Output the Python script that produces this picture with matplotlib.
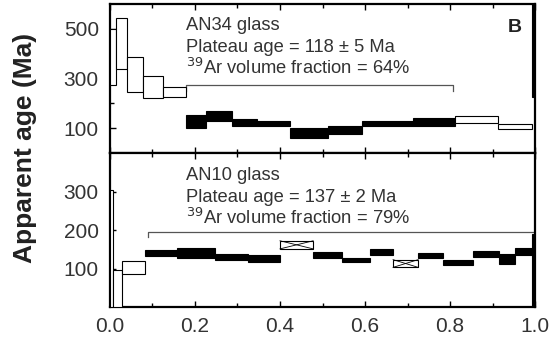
import matplotlib
matplotlib.use("Agg")
import matplotlib.pyplot as plt
from matplotlib.patches import Rectangle
from matplotlib.ticker import MultipleLocator, FixedLocator, FormatStrFormatter

plt.rcParams["font.family"] = ["Liberation Sans", "DejaVu Sans"]

# ─── Data ──────────────────────────────────────────────────────────────────────
# AN34 glass: step edges (cumulative 39Ar fraction), age low/high bounds (Ma)
an34_edges = [0.0, 0.013, 0.040, 0.078, 0.125, 0.179, 0.226, 0.287, 0.346,
              0.424, 0.513, 0.593, 0.713, 0.812, 0.913, 0.994, 1.0]
an34_lo = [275, 337, 247, 222, 226, 99, 128, 107, 107, 62, 78, 107, 107, 119, 95, 226]
an34_hi = [500, 545, 387, 309, 267, 152, 169, 136, 128, 100, 107, 128, 140, 148, 115, 650]
an34_plateau = [0, 0, 0, 0, 0, 1, 1, 1, 1, 1, 1, 1, 1, 0, 0, 1]
an34_bracket = (0.179, 0.807, 272)

# AN10 glass
an10_edges = [0.0, 0.008, 0.028, 0.082, 0.158, 0.247, 0.325, 0.400, 0.478, 0.546,
              0.612, 0.666, 0.725, 0.784, 0.854, 0.915, 0.953, 0.993, 1.0]
an10_lo = [0, 0, 87, 133, 128, 123, 118, 151, 128, 118, 136, 103, 128, 110, 131, 113, 136, 0]
an10_hi = [305, 95, 120, 149, 154, 138, 136, 172, 144, 128, 151, 123, 141, 123, 146, 138, 154, 190]
an10_plateau = [0, 0, 0, 1, 1, 1, 1, 0, 1, 1, 1, 0, 1, 1, 1, 1, 1, 1]
an10_crossed = [7, 11]
an10_bracket = (0.089, 1.0, 195)

labels_an34 = ["AN34 glass", "Plateau age = 118 ± 5 Ma", "$^{39}$Ar volume fraction = 64%"]
labels_an10 = ["AN10 glass", "Plateau age = 137 ± 2 Ma", "$^{39}$Ar volume fraction = 79%"]

TXT = "#333333"


def draw_spectrum(ax, edges, lo, hi, filled, crossed=()):
    for i in range(len(lo)):
        x0, x1 = edges[i], edges[i + 1]
        ax.add_patch(Rectangle((x0, lo[i]), x1 - x0, hi[i] - lo[i],
                               facecolor="black" if filled[i] else "white",
                               edgecolor="black", linewidth=0.8, zorder=3))
        if i in crossed:
            xm = (x0 + x1) / 2
            ym = (lo[i] + hi[i]) / 2
            for ya, yb in [(lo[i], hi[i]), (hi[i], lo[i])]:
                ax.plot([x0, xm, x1], [ya, ym, yb], color="black", lw=0.6, zorder=4)


def draw_bracket(ax, bracket, drop):
    x0, x1, y = bracket
    ax.plot([x0, x0, x1, x1], [y - drop, y, y, y - drop], color="#555555",
            lw=0.9, zorder=2)


fig = plt.figure(figsize=(5.51, 3.40), dpi=100)
ax1 = fig.add_axes([0.1996, 0.55, 0.7714, 0.438])
ax2 = fig.add_axes([0.1996, 0.097, 0.7714, 0.453])

draw_spectrum(ax1, an34_edges, an34_lo, an34_hi, an34_plateau)
draw_bracket(ax1, an34_bracket, 22)
draw_spectrum(ax2, an10_edges, an10_lo, an10_hi, an10_plateau, an10_crossed)
draw_bracket(ax2, an10_bracket, 13)

ax1.set_ylim(0, 600)
ax2.set_ylim(0, 400)
ax1.yaxis.set_major_locator(FixedLocator([100, 300, 500]))
ax1.yaxis.set_minor_locator(FixedLocator([200, 400]))
ax2.yaxis.set_major_locator(FixedLocator([100, 200, 300]))

for ax in (ax1, ax2):
    ax.set_xlim(0, 1)
    ax.xaxis.set_major_locator(MultipleLocator(0.2))
    ax.xaxis.set_minor_locator(MultipleLocator(0.1))
    ax.xaxis.set_major_formatter(FormatStrFormatter("%.1f"))
    ax.tick_params(which="both", direction="in", top=True, length=4,
                   width=1.0, labelsize=15, labelcolor=TXT)
    ax.tick_params(which="minor", length=3)
    ax.tick_params(axis="y", pad=8)
    ax.tick_params(axis="x", pad=7)
    for s in ax.spines.values():
        s.set_linewidth(1.6)

ax1.tick_params(labelbottom=False)

for ax, lines, ys in ((ax1, labels_an34, (0.855, 0.71, 0.57)),
                      (ax2, labels_an10, (0.857, 0.714, 0.58))):
    for t, y in zip(lines, ys):
        ax.text(0.18, y, t, transform=ax.transAxes,
                fontsize=13.2, color=TXT, va="center", ha="left")

ax1.text(0.953, 0.846, "B", transform=ax1.transAxes, fontsize=14,
         fontweight="bold", color="#222222", ha="center", va="center")

fig.text(0.045, 0.565, "Apparent age (Ma)", rotation=90, fontsize=19,
         fontweight="bold", color="#222222", ha="center", va="center")

fig.savefig("out.png", dpi=100)
